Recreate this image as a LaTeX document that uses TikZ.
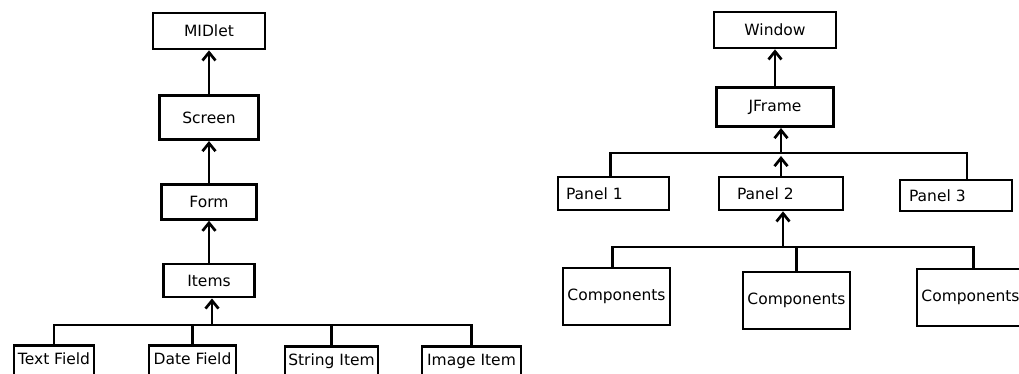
\documentclass[tikz,border=0pt]{standalone}
\usepackage{fontspec}
\setmainfont{DejaVu Sans}
\usetikzlibrary{arrows.meta,positioning}

\begin{document}
\begin{tikzpicture}[x=1pt,y=-1pt,
    box/.style={draw,line width=2.7pt,align=center,font=\fontsize{15.5}{18}\selectfont,inner sep=0pt},
    cut/.style={anchor=north,text height=19pt,text depth=32pt},
    lbox/.style={box,align=left},
    link/.style={line width=2.7pt},
    arrow/.style={-{Straight Barb[length=8pt,width=13pt]},line width=2.7pt}
  ]
    \clip (0,0) rectangle (1019,374);

    \node[box,minimum width=112pt,minimum height=36pt] (midlet) at (209,31) {MIDlet};
    \node[box,minimum width=99pt,minimum height=44pt,below=44pt of midlet] (screen) {Screen};
    \node[box,minimum width=95pt,minimum height=35pt,below=42pt of screen] (form) {Form};
    \node[box,minimum width=91pt,minimum height=33pt,below=42pt of form] (items) {Items};

    \node[box,cut,minimum width=80pt] (textf) at (54,344) {Text Field};
    \node[box,cut,minimum width=87pt] (datef) at (192.5,344) {Date Field};
    \node[box,cut,minimum width=93pt] (stringi) at (331.5,345) {String Item};
    \node[box,cut,minimum width=99pt] (imagei) at (471.5,345) {Image Item};

    \coordinate (lbus) at (0,325);
    \draw[arrow] (screen.north) -- (midlet.south);
    \draw[arrow] (form.north) -- (screen.south);
    \draw[arrow] (items.north) -- (form.south);
    \draw[link] (textf.north) |- (imagei.north |- lbus) -- (imagei.north);
    \foreach \n in {datef,stringi} \draw[link] (\n.north) -- (\n.north |- lbus);
    \draw[arrow] ([xshift=3pt]items.south |- lbus) -- ([xshift=3pt]items.south);

    \node[box,minimum width=122pt,minimum height=36pt] (window) at (775,30) {Window};
    \node[box,minimum width=117pt,minimum height=39pt,below=37pt of window] (jframe) {JFrame};

    \node[lbox,inner xsep=8pt,text width=95pt,minimum height=33pt] (panel1) at (613.5,193.5) {Panel 1};
    \node[lbox,inner xsep=18pt,text width=88pt,minimum height=33pt] (panel2) at (781,193.5) {Panel 2};
    \node[lbox,inner xsep=9pt,text width=94pt,minimum height=31pt] (panel3) at (956,195.5) {Panel 3};

    \node[box,minimum width=107pt,minimum height=57pt] (comp1) at (616.5,296.5) {Components};
    \node[box,minimum width=107pt,minimum height=57pt] (comp2) at (796.5,300.5) {Components};
    \node[box,minimum width=107pt,minimum height=57pt] (comp3) at (970.5,297.5) {Components};

    \coordinate (rbus) at (0,153);
    \coordinate (rbus2) at (0,247);
    \draw[arrow] (jframe.north) -- (window.south);
    \draw[link] ([xshift=-3pt]panel1.north) |- ([xshift=11pt]panel3.north |- rbus) -- ([xshift=11pt]panel3.north);
    \draw[arrow] (panel2.north) -- ([yshift=-3pt]panel2.north |- rbus);
    \draw[arrow] (panel2.north |- rbus) -- (panel2.north |- jframe.south);
    \draw[link] ([xshift=-4pt]comp1.north) |- ([xshift=3pt]comp3.north |- rbus2) -- ([xshift=3pt]comp3.north);
    \draw[link] (comp2.north) -- (comp2.north |- rbus2);
    \draw[arrow] ([xshift=2pt]panel2.south |- rbus2) -- ([xshift=2pt]panel2.south);
\end{tikzpicture}
\end{document}
